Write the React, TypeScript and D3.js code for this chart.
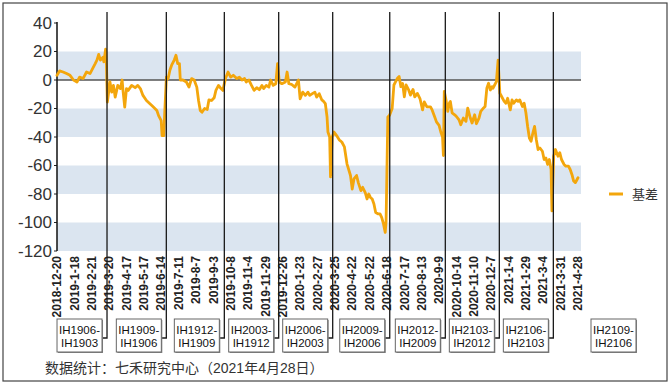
import React from 'react';
import * as d3 from 'd3';

// trading-day index (0 = 2018-12-20) and basis value
const basis: [number, number][] = [
  [0, 3.3], [3, 6.4], [7, 5.6], [11, 4.5], [15, 3.3], [19, 0], [23, -1.4], [26, 2], [30, 1], [34, 5.6],
  [38, 4.5], [41, 8], [44, 11.5], [46, 14], [48, 18], [50, 14], [53, 16], [54, 12.7], [56, 21.6], [57, 10],
  [58, -15.5], [61, -1.4], [63, -8.5], [65, -3.8], [67, -12], [70, -3.8], [73, -6], [75, 0], [76, -7.3], [78, -19],
  [80, -6], [82, -7.3], [86, -3.8], [90, -5.4], [93, -3.8], [96, -6], [99, -10.8], [103, -14.4], [107, -16.7], [111, -19],
  [115, -21.4], [117, -25], [120, -28.5], [121, -39], [123, -39], [124, -23.8], [126, 2], [128, 1], [130, 6.8], [132, 10.4],
  [135, 14], [137, 17.4], [139, 11.5], [141, 11.5], [142, 0], [145, 0], [149, -1.4], [152, -5], [155, 1], [158, 0],
  [161, -5], [163, -14.4], [165, -21.4], [167, -22.6], [170, -20], [173, -20.7], [175, -13.9], [178, -14.4], [181, -12.5], [183, -7.3],
  [186, -3.8], [188, -5.4], [191, -7.3], [194, 1], [197, 5.6], [200, 2], [203, 3.3], [207, 1], [210, 2], [213, 0],
  [216, 1], [218, -1.4], [221, 0], [224, -3.8], [227, -7.3], [230, -5.4], [233, -6.8], [236, -3.8], [238, -6], [241, -3.8],
  [244, -5], [246, 0], [249, -3.8], [252, -2.6], [254, 11.5], [256, -1.4], [259, -2.6], [263, -1.4], [265, 5.6], [267, -2.6],
  [270, -3], [274, -5], [278, 0], [280, -13.2], [283, -8.5], [286, -10.8], [289, -8.5], [291, -10.8], [295, -9.2], [297, -8.5],
  [299, -12], [302, -9.6], [305, -14], [307, -15], [309, -16.5], [311, -26], [312, -36.5], [314, -40], [315, -68], [317, -40],
  [319, -36.5], [322, -39], [325, -42], [328, -43.5], [331, -47], [334, -59], [335, -61], [338, -67], [340, -76.5], [342, -69.4],
  [345, -67], [347, -72], [350, -77.6], [352, -75.3], [355, -79], [357, -83.5], [359, -80], [361, -82.4], [363, -83.5], [365, -87],
  [367, -93], [370, -94], [372, -94], [374, -96.5], [376, -101], [378, -107], [379, -99], [381, -26], [383, -24.7], [386, -20],
  [388, -3.5], [390, -1.2], [392, 1.2], [394, 2.4], [396, -4.7], [398, -2.4], [400, -11.8], [402, -3.5], [405, -7], [407, -10.6],
  [410, -6.6], [412, -11.8], [415, -9.4], [418, -13], [421, -21], [423, -15.3], [426, -18.8], [430, -18.8], [432, -21], [435, -26],
  [437, -29.4], [440, -31.8], [442, -36.5], [444, -40], [445, -53], [446, -8], [448, -14], [450, -22], [452, -16], [453, -15],
  [455, -23], [458, -24.4], [460, -25.6], [463, -28], [465, -31.4], [468, -26.7], [471, -29], [473, -19.8], [476, -26.7], [478, -30.2],
  [481, -24.4], [483, -30.7], [486, -26.7], [488, -22], [491, -19.8], [493, -18.6], [495, -5.8], [497, -2.3], [499, -7], [501, -4.7],
  [502, -5.8], [504, -3.5], [506, -1.2], [508, 14], [510, -9.3], [512, -11.6], [515, -15], [517, -16.3], [519, -12.8], [522, -21],
  [524, -14], [526, -16.3], [529, -14], [531, -15], [533, -14], [536, -18.6], [538, -16.3], [540, -23], [542, -32.6], [544, -40.7],
  [546, -43], [548, -37.2], [550, -32.6], [552, -41.9], [554, -48.8], [556, -47.7], [559, -50], [561, -55.8], [563, -54.7], [565, -59.3],
  [567, -55.8], [569, -62.8], [570, -91.9], [572, -53.5], [574, -48.8], [577, -53.5], [579, -51], [581, -55.8], [584, -59.3], [586, -60.5],
  [589, -60.5], [591, -62.8], [593, -66.3], [595, -70.9], [597, -72], [598, -70.9], [600, -68.6],
];

// a date label every 20 trading days
const dateLabels = [
  '2018-12-20', '2019-1-18', '2019-2-21', '2019-3-20', '2019-4-17', '2019-5-17', '2019-6-14', '2019-7-11',
  '2019-8-7', '2019-9-3', '2019-10-8', '2019-11-4', '2019-11-29', '2019-12-26', '2020-1-23', '2020-2-27',
  '2020-3-25', '2020-4-22', '2020-5-22', '2020-6-18', '2020-7-17', '2020-8-13', '2020-9-9', '2020-10-14',
  '2020-11-10', '2020-12-7', '2021-1-4', '2021-1-29', '2021-3-4', '2021-3-31', '2021-4-28',
];

// contract roll days (trading-day index) and the spread shown in each box
const rollDays = [57.6, 125.9, 192.7, 255.3, 317.5, 383.2, 447.2, 509.4, 571.6];
const spreadLabels = [
  ['IH1906-', 'IH1903'], ['IH1909-', 'IH1906'], ['IH1912-', 'IH1909'], ['IH2003-', 'IH1912'],
  ['IH2006-', 'IH2003'], ['IH2009-', 'IH2006'], ['IH2012-', 'IH2009'], ['IH2103-', 'IH2012'],
  ['IH2106-', 'IH2103'], ['IH2109-', 'IH2106'],
];

const yTicks = [40, 20, 0, -20, -40, -60, -80, -100, -120];
const bandRanges: [number, number][] = [[0, 20], [-40, -20], [-80, -60], [-120, -100]];

const W = 671;
const H = 384;
const orange = '#f3a60c';
const font = 'Arial, "Liberation Sans", "Noto Sans CJK SC", sans-serif';

export default function App() {
  const x = d3.scaleLinear().domain([0, 600]).range([57, 578]);
  const y = d3.scaleLinear().domain([-120, 40]).range([251, 23]);
  const plotRight = 581;

  const line = d3.line<[number, number]>()
    .x(d => x(d[0]))
    .y(d => y(d[1]));

  const boxW = 45;
  const boxTop = 319;
  const boxH = 33;
  const elbowY = 338;

  return (
    <svg width={W} height={H} style={{ position: 'absolute', left: 0, top: 0 }} fontFamily={font}>
      <rect x={0} y={0} width={W} height={H} fill="#fff" />
      <rect x={3} y={3} width={664} height={378} fill="none" stroke="#444" strokeWidth={1.2} />

      {bandRanges.map(([a, b]) => (
        <rect key={a} x={x(0)} y={y(b)} width={plotRight - x(0)} height={y(a) - y(b)} fill="#dbe5f0" />
      ))}

      <line x1={x(0)} x2={plotRight} y1={y(0)} y2={y(0)} stroke="#555" strokeWidth={1.5} />

      {yTicks.map(t => (
        <g key={t}>
          <line x1={x(0) - 3} x2={x(0)} y1={y(t)} y2={y(t)} stroke="#222" />
          <text x={52} y={y(t)} dy="0.35em" textAnchor="end" fontSize={17} fill="#333">{t}</text>
        </g>
      ))}
      <line x1={x(0)} x2={x(0)} y1={y(40) - 1} y2={y(-120)} stroke="#111" strokeWidth={1.5} />

      {dateLabels.map((d, i) => (
        <text key={d} transform={`translate(${x(i * 20)},256) rotate(-90)`} dy="0.35em" textAnchor="end"
          fontSize={12} fontWeight="bold" fill="#222">{d}</text>
      ))}

      <path d={line(basis) ?? ''} fill="none" stroke={orange} strokeWidth={2.8} strokeLinejoin="round" strokeLinecap="round" />

      {rollDays.map(r => (
        <path key={r} d={`M${x(r)},12V${elbowY}H${x(r) - 5}`} fill="none" stroke="#1a1a1a" strokeWidth={1.3} />
      ))}

      {spreadLabels.map((lab, i) => {
        const right = i < rollDays.length ? x(rollDays[i]) - 5 : x(600) + 58;
        const left = right - boxW;
        return (
          <g key={lab.join('')}>
            <rect x={left + 1} y={boxTop + 1} width={boxW} height={boxH} fill="#888" />
            <rect x={left} y={boxTop} width={boxW} height={boxH} fill="#fff" stroke="#666" strokeWidth={1} />
            <text x={left + boxW / 2} y={boxTop + 11} dy="0.35em" textAnchor="middle" fontSize={11.5} fill="#111">{lab[0]}</text>
            <text x={left + boxW / 2} y={boxTop + 23.5} dy="0.35em" textAnchor="middle" fontSize={11.5} fill="#111">{lab[1]}</text>
          </g>
        );
      })}

      <line x1={609} x2={623} y1={194} y2={194} stroke={orange} strokeWidth={3} />
      <text x={632} y={194} dy="0.35em" fontSize={13} fill="#333">基差</text>

      <text x={45} y={368} dy="0.35em" fontSize={14} fill="#333">数据统计：七禾研究中心（2021年4月28日）</text>
    </svg>
  );
}
